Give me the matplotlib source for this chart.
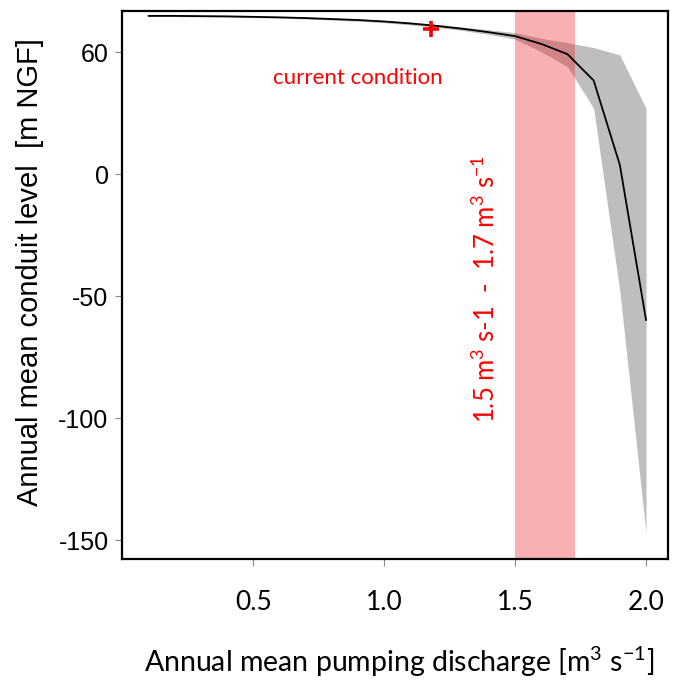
import matplotlib
matplotlib.use("Agg")
import matplotlib.pyplot as plt

# pumping discharge scenarios [m3/s] and simulated conduit level [m NGF]
discharge = [0.1, 0.2, 0.3, 0.4, 0.5, 0.6, 0.7, 0.8, 0.9, 1.0,
             1.1, 1.2, 1.3, 1.4, 1.5, 1.6, 1.7, 1.8, 1.9, 2.0]
level_mean = [64.9, 64.9, 64.8, 64.7, 64.5, 64.3, 64.0, 63.6, 63.2, 62.6,
              61.8, 60.8, 59.6, 58.2, 56.6, 53.4, 49.2, 38.4, 3.8, -59.7]
level_upper = [65.2, 65.2, 65.1, 65.0, 64.8, 64.6, 64.4, 64.0, 63.6, 63.1,
               62.3, 61.4, 60.3, 59.2, 58.0, 55.7, 53.9, 51.9, 48.9, 27.0]
level_lower = [64.6, 64.6, 64.5, 64.4, 64.2, 64.0, 63.6, 63.2, 62.7, 62.1,
               61.2, 60.2, 58.9, 57.3, 55.4, 50.2, 44.1, 27.0, -48.0, -147.0]

current_q = 1.18
current_level = 59.4
threshold_band = (1.5, 1.73)

xticks = [0.5, 1.0, 1.5, 2.0]
xtick_labels = ["0.5", "1.0", "1.5", "2.0"]
yticks = [50, 0, -50, -100, -150]
ytick_labels = ["60", "0", "-50", "-100", "-150"]

plt.rcParams["mathtext.default"] = "regular"

fig = plt.figure(figsize=(6.76, 6.81), dpi=100)
ax = fig.add_axes([0.1812, 0.1791, 0.807, 0.8051])

ax.fill_between(discharge, level_lower, level_upper, color="#bebebe", lw=0)
ax.plot(discharge, level_mean, color="black", lw=1.3)
ax.axvspan(*threshold_band, color="#f01820", alpha=0.34, lw=0)
ax.plot(current_q, current_level, marker="+", color="red", ms=11, mew=2.6)

ax.text(0.9, 39.5, "current condition", color="red", fontsize=16,
        family="Lato", ha="center", va="center")
ax.text(1.39, -47, r"1.5 m$^3$ s-1  -  1.7 m$^3$ s$^{-1}$", color="red",
        fontsize=18.5, family="Lato", rotation=90, ha="center", va="center")

ax.set_xlim(0, 2.084)
ax.set_ylim(-157.7, 67.0)
ax.set_xticks(xticks)
ax.set_xticklabels(xtick_labels, family="Lato", fontsize=19)
ax.set_yticks(yticks)
ax.set_yticklabels(ytick_labels, family="Liberation Sans", fontsize=18)
ax.tick_params(axis="x", length=5, color="#888888", pad=17)
ax.tick_params(axis="y", length=5, color="#888888", pad=5)
for side in ax.spines.values():
    side.set_linewidth(1.6)

fig.text(0.59, 0.028, r"Annual mean pumping discharge [m$^3$ s$^{-1}$]",
         family="Lato", fontsize=20.5, ha="center", va="center")
fig.text(0.045, 0.6, "Annual mean conduit level  [m NGF]",
         family="Liberation Sans", fontsize=21, rotation=90,
         ha="center", va="center")

fig.savefig("out.png", dpi=100)
